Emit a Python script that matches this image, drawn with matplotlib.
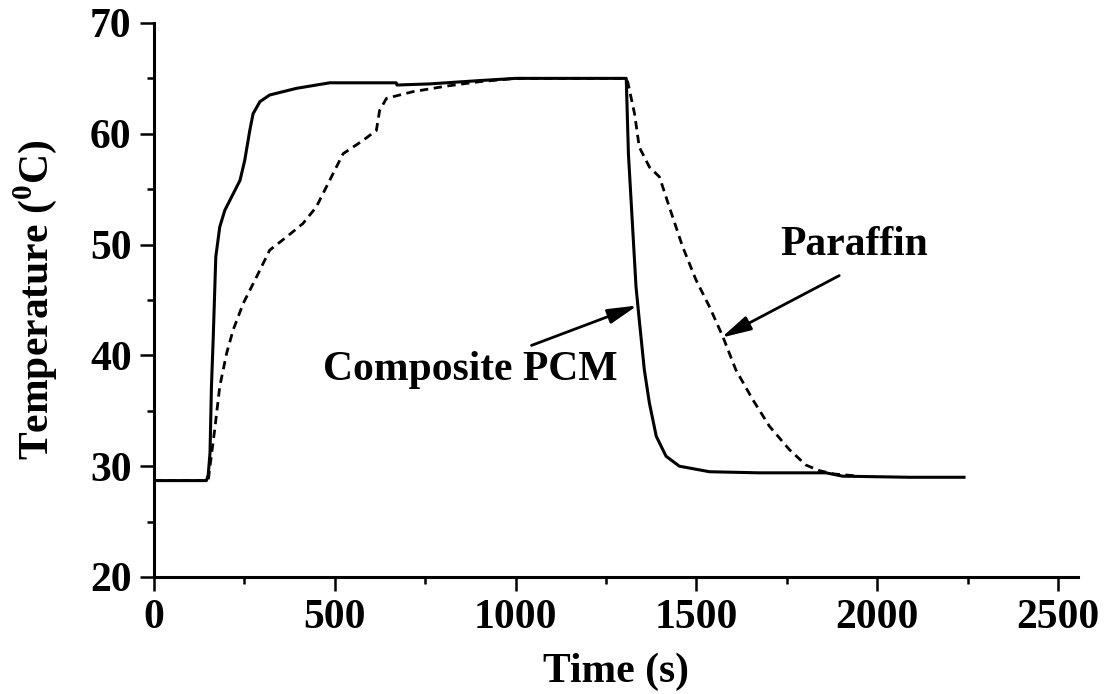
import matplotlib
matplotlib.use("Agg")
import matplotlib.pyplot as plt
from matplotlib.ticker import MultipleLocator

plt.rcParams['font.family'] = ['Liberation Serif', 'DejaVu Serif']
plt.rcParams['font.weight'] = 'bold'
plt.rcParams['mathtext.fontset'] = 'custom'
plt.rcParams['mathtext.rm'] = 'Liberation Serif:bold'
plt.rcParams['mathtext.bf'] = 'Liberation Serif:bold'

# composite PCM (solid)
comp_t = [0, 145, 150, 155, 159, 164, 171, 182, 196, 210, 238, 251, 265, 274, 293,
          320, 394, 486, 578, 670, 672, 762, 900, 1000, 1122, 1306, 1312, 1333,
          1342, 1356, 1370, 1389, 1416, 1453, 1536, 1674, 1858, 1904, 2088, 2240]
comp_T = [28.7, 28.7, 29.2, 31.2, 37.2, 41.7, 48.9, 51.6, 53.1, 54.0, 55.8, 57.6, 60.3,
          61.8, 62.9, 63.5, 64.1, 64.6, 64.6, 64.6, 64.4, 64.5, 64.8, 65.0, 65.0, 65.0,
          58.2, 46.2, 43.2, 38.7, 35.7, 32.7, 30.9, 30.0, 29.5, 29.4, 29.4, 29.1,
          29.0, 29.0]

# paraffin (dashed)
par_t = [0, 150, 155, 168, 182, 201, 219, 247, 284, 320, 367, 412, 449, 486, 523, 578,
         615, 624, 643, 716, 808, 900, 1000, 1300, 1310, 1329, 1342, 1370, 1398, 1425,
         1462, 1499, 1536, 1573, 1609, 1656, 1702, 1757, 1803, 1840, 1880, 1950]
par_T = [28.7, 28.7, 30.0, 33.3, 37.2, 40.2, 42.3, 44.7, 47.1, 49.5, 50.7, 51.9, 53.4,
         55.8, 58.2, 59.4, 60.3, 62.1, 63.2, 63.8, 64.3, 64.7, 65.0, 65.0, 64.7, 61.8,
         58.8, 57.0, 56.1, 53.4, 49.8, 46.8, 44.4, 41.7, 38.7, 36.0, 33.6, 31.5, 30.1,
         29.6, 29.3, 29.1]

fig = plt.figure(figsize=(11.1, 6.94), dpi=100)
ax = fig.add_axes([0.1387, 0.1686, 0.8324, 0.7983])

ax.plot(par_t, par_T, color='k', lw=2.0, linestyle=(0, (3, 2)))
ax.plot(comp_t, comp_T, color='k', lw=2.2)

ax.set_xlim(0, 2555)
ax.set_ylim(20, 70)
ax.xaxis.set_major_locator(MultipleLocator(500))
ax.xaxis.set_minor_locator(MultipleLocator(250))
ax.yaxis.set_major_locator(MultipleLocator(10))
ax.yaxis.set_minor_locator(MultipleLocator(5))

for s in ['top', 'right']:
    ax.spines[s].set_visible(False)
for s in ['left', 'bottom']:
    ax.spines[s].set_linewidth(2.2)

ax.tick_params(which='major', direction='out', length=10, width=1.8,
               labelsize=30, pad=6)
ax.tick_params(which='minor', direction='out', length=5, width=1.8)

ax.set_xlabel('Time (s)', fontsize=30, fontweight='bold', labelpad=11)
ax.set_ylabel(r'Temperature ($^{0}$C)', fontsize=30, fontweight='bold', labelpad=22)

ax.annotate('', xy=(1337, 44.5), xytext=(1044, 40.9),
            arrowprops=dict(arrowstyle='-|>,head_length=1.2,head_width=0.3',
                            lw=2, color='k', shrinkA=0, shrinkB=0, mutation_scale=15))
ax.annotate('', xy=(1569, 41.6), xytext=(1895, 47.2),
            arrowprops=dict(arrowstyle='-|>,head_length=1.2,head_width=0.3',
                            lw=2, color='k', shrinkA=0, shrinkB=0, mutation_scale=15))
ax.text(876, 38.7, 'Composite PCM', fontsize=30, fontweight='bold',
        ha='center', va='center')
ax.text(1936, 50.0, 'Paraffin', fontsize=30, fontweight='bold',
        ha='center', va='center')

fig.savefig('out.png', dpi=100)
